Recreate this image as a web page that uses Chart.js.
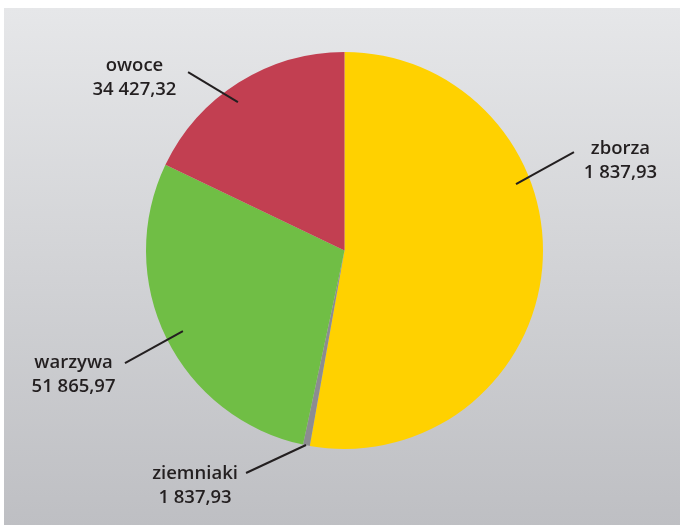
<!DOCTYPE html>
<html>
<head>
<meta charset="utf-8">
<script src="https://cdn.jsdelivr.net/npm/chart.js@4/dist/chart.umd.min.js"></script>
<style>
html,body{margin:0;padding:0;background:#fff;}
#wrap{width:680px;height:525px;position:relative;}
</style>
</head>
<body>
<div id="wrap"><canvas id="c" width="680" height="525"></canvas></div>
<script>
// Categories (clockwise from top)
const categories = ["zborza", "ziemniaki", "warzywa", "owoce"];
// Estimated slice shares (%)
const shares = [52.8, 0.55, 28.75, 17.9];
// Value labels as printed in the picture
const valueLabels = ["1 837,93", "1 837,93", "51 865,97", "34 427,32"];
const colors = ["#FFD100", "#8C8C91", "#70BE45", "#C23F51"];

// Annotation layout (in units of pie radius, relative to pie centre)
const annot = [
  {inner:[0.864,-0.335], outer:[1.156,-0.496], text:[1.390,-0.367]},
  {inner:[-0.194,0.980], outer:[-0.496,1.121], text:[-0.753,1.272]},
  {inner:[-0.814,0.406], outer:[-1.106,0.567], text:[-1.365,0.711]},
  {inner:[-0.537,-0.748], outer:[-0.788,-0.899], text:[-1.058,-0.783]}
];

const bgPlugin = {
  id: 'bg',
  beforeDraw(chart) {
    const ctx = chart.ctx;
    const g = ctx.createLinearGradient(0, 8, 0, 525);
    g.addColorStop(0, '#E6E7E9');
    g.addColorStop(1, '#BEBFC3');
    ctx.save();
    ctx.fillStyle = '#ffffff';
    ctx.fillRect(0, 0, chart.width, chart.height);
    ctx.fillStyle = g;
    ctx.fillRect(4, 8, chart.width - 4, chart.height - 8);
    ctx.restore();
  }
};

const labelPlugin = {
  id: 'labels',
  afterDatasetsDraw(chart) {
    const meta = chart.getDatasetMeta(0);
    const arc0 = meta.data[0];
    const cx = arc0.x, cy = arc0.y, R = arc0.outerRadius;
    const ctx = chart.ctx;
    ctx.save();
    ctx.strokeStyle = '#231F20';
    ctx.lineWidth = 2;
    ctx.fillStyle = '#231F20';
    ctx.font = '600 18.5px "Open Sans", sans-serif';
    ctx.textAlign = 'center';
    ctx.textBaseline = 'alphabetic';
    categories.forEach((cat, i) => {
      const a = annot[i];
      ctx.beginPath();
      ctx.moveTo(cx + a.inner[0] * R, cy + a.inner[1] * R);
      ctx.lineTo(cx + a.outer[0] * R, cy + a.outer[1] * R);
      ctx.stroke();
      const tx = cx + a.text[0] * R, ty = cy + a.text[1] * R;
      ctx.fillText(cat, tx, ty - 24);
      ctx.fillText(valueLabels[i], tx, ty);
    });
    ctx.restore();
  }
};

new Chart(document.getElementById('c'), {
  type: 'pie',
  data: {
    labels: categories,
    datasets: [{
      data: shares,
      backgroundColor: colors,
      borderWidth: 0
    }]
  },
  options: {
    responsive: false,
    animation: false,
    layout: { padding: { left: 146, right: 137, top: 52, bottom: 76 } },
    plugins: {
      legend: { display: false },
      tooltip: { enabled: false }
    }
  },
  plugins: [bgPlugin, labelPlugin]
});
</script>
</body>
</html>
